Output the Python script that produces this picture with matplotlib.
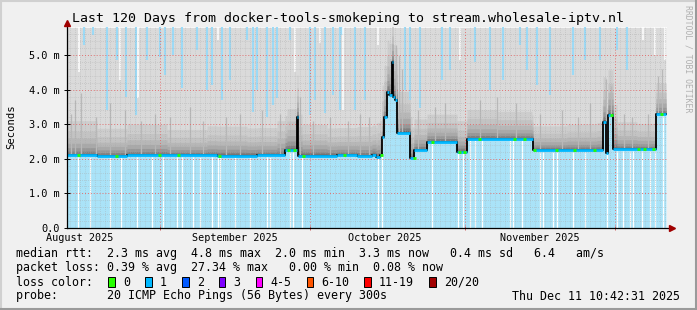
import datetime as dt
import numpy as np
import matplotlib
matplotlib.use('Agg')
import matplotlib.pyplot as plt
from matplotlib.patches import Rectangle
from matplotlib.lines import Line2D

plt.rcParams['font.family'] = ['DejaVu Sans Mono']

# ---------------- data ----------------
# x values are days since the start of the 120 day window
start = dt.datetime(2025, 8, 13, 10, 42, 31)
n_days = 120
data_end = 119.8

# median rtt (ms), step-wise
median_day = [0.0, 6.0, 12.0, 30.0, 38.0, 43.6, 45.9, 46.1, 54.0, 58.0, 61.0, 61.8,
              62.6, 63.0, 63.4, 64.0, 64.4, 64.9, 65.2, 65.6, 66.0, 68.6, 69.4,
              72.0, 78.0, 80.0, 93.2, 107.2, 107.7, 108.2, 109.2, 117.8]
median_ms = [2.10, 2.08, 2.10, 2.09, 2.10, 2.25, 3.22, 2.09, 2.10, 2.08, 2.12, 2.05,
             2.10, 2.63, 3.20, 3.93, 3.84, 4.80, 3.80, 3.70, 2.75, 2.02, 2.25,
             2.49, 2.20, 2.57, 2.25, 3.07, 2.17, 3.27, 2.27, 3.29]

# how far the dense smoke reaches above the median (ms)
smoke_day = [0, 6, 12, 20, 28, 36, 42, 44, 47, 52, 58, 62, 63, 66, 69, 72, 78, 80,
             86, 93, 100, 106, 107, 110, 114, 117.8]
smoke_spread = [1.0, 0.8, 0.9, 0.75, 0.85, 0.8, 1.0, 1.2, 0.9, 0.8, 0.85, 1.0, 1.5,
                1.2, 0.9, 0.8, 0.9, 0.85, 0.8, 0.7, 0.75, 0.8, 1.3, 0.8, 0.75, 0.9]
smoke_fracs = [1.0, 0.7, 0.5, 0.35, 0.22, 0.12, 0.05]
smoke_colors = ['#cdcdcd', '#c3c3c3', '#b7b7b7', '#a9a9a9', '#979797', '#808080', '#606060']

# darker single smoke streaks: day, top (ms)
gray_streak_day = [0.8, 1.6, 2.8, 5.8, 8.6, 11.6, 14.8, 17.6, 20.6, 24.6, 27.2, 31.8,
                   34.6, 39.0, 42.6, 46.6, 49.2, 52.6, 56.2, 58.6, 60.4, 65.8, 66.4,
                   67.0, 70.2, 73.6, 75.6, 82.6, 86.0, 89.8, 94.6, 99.0, 102.2, 104.6,
                   107.8, 108.8, 111.4, 113.0, 116.2, 118.2, 119.0]
gray_streak_top = [3.3, 3.7, 3.9, 3.2, 3.6, 3.4, 3.1, 3.3, 3.2, 3.5, 3.1, 3.2,
                   3.3, 3.4, 3.3, 3.8, 3.1, 3.2, 3.1, 3.3, 3.2, 5.3, 5.0,
                   4.6, 3.4, 3.5, 3.6, 3.7, 3.8, 3.6, 3.3, 3.4, 3.2, 3.6,
                   4.3, 4.1, 3.3, 3.2, 3.3, 4.4, 4.6]

# streaks at the top where the smoke stops short: day, lower end (ms)
blue_top_day = [3.4, 5.2, 8.0, 10.0, 11.8, 13.8, 16.0, 18.6, 19.6, 21.2, 23.0, 26.0,
                28.0, 29.0, 31.0, 32.6, 36.0, 37.2, 38.0, 40.0, 41.2, 42.0, 44.6,
                48.6, 49.6, 51.6, 53.2, 54.6, 55.0, 57.6, 59.6, 67.6, 68.6, 70.6,
                75.0, 76.6, 81.6, 84.6, 87.2, 90.6, 92.0, 94.0, 96.6, 101.2, 103.6,
                106.6, 110.0, 112.0]
blue_top_ms = [5.29, 5.58, 3.41, 4.86, 3.79, 3.27, 4.86, 4.94, 4.42, 5.00, 4.05, 5.14,
               3.99, 4.13, 3.70, 4.28, 5.43, 3.35, 3.99, 3.21, 3.55, 3.76, 5.43,
               3.27, 3.70, 3.32, 3.84, 3.41, 5.58, 3.41, 3.70, 3.99, 3.70, 3.47,
               4.28, 4.57, 4.80, 3.99, 4.28, 5.29, 4.57, 4.13, 3.84, 4.42, 4.86,
               4.86, 5.14, 4.57]
white_top_day = [2.4, 10.6, 14.2, 30.2, 45.6, 50.6, 55.2, 62.2, 78.6, 115.2, 117.6, 119.6]
white_top_ms = [4.51, 4.28, 3.76, 5.43, 4.51, 5.35, 3.41, 5.29, 4.86, 5.43, 5.00, 4.86]

# gaps (no data) in the area below the median
gap_day = [2.2, 4.6, 8.6, 10.8, 14.0, 17.0, 19.2, 22.0, 23.0, 25.2, 26.6, 29.0, 30.2,
           30.6, 33.6, 36.6, 40.0, 40.6, 44.6, 45.2, 47.0, 62.2, 63.0, 73.0, 78.2,
           79.2, 80.6, 81.6, 83.0, 88.6, 89.2, 91.0, 94.6, 95.2, 97.2, 98.0, 101.2,
           103.6, 108.0, 110.0, 111.2, 112.6, 113.2, 115.0, 116.6, 117.6, 119.2]

# days where the median had no loss (green)
green_day = [2.0, 9.6, 18.2, 22.0, 30.2, 44.0, 45.2, 47.0, 55.2, 62.6, 69.2, 72.8,
             78.2, 79.2, 82.2, 89.2, 91.2, 93.2, 97.6, 101.2, 105.2, 108.6, 114.0,
             115.2, 117.0, 118.6]

month_labels = ['August 2025', 'September 2025', 'October 2025', 'November 2025']
ytick_vals = [0, 1, 2, 3, 4, 5]
ytick_labels = ['0.0', '1.0 m', '2.0 m', '3.0 m', '4.0 m', '5.0 m']

loss_labels = ['0', '1', '2', '3', '4-5', '6-10', '11-19', '20/20']
loss_colors = ['#26ff00', '#00b8ff', '#0059ff', '#7e00ff', '#ff00ff', '#ff5500',
               '#ff0000', '#a10000']

stats_rtt = 'median rtt:  2.3 ms avg  4.8 ms max  2.0 ms min  3.3 ms now   0.4 ms sd   6.4   am/s'
stats_loss = 'packet loss: 0.39 % avg  27.34 % max   0.00 % min  0.08 % now'
probe_txt = 'probe:       20 ICMP Echo Pings (56 Bytes) every 300s'
stamp_txt = 'Thu Dec 11 10:42:31 2025'
title_txt = 'Last 120 Days from docker-tools-smokeping to stream.wholesale-iptv.nl'

# ---------------- helpers ----------------
W, H = 697, 310
ymax = 5.8


def step_at(x, bx, by):
    idx = np.searchsorted(bx, x, side='right') - 1
    return np.asarray(by)[np.clip(idx, 0, len(by) - 1)]


def day_of(d):
    return (d - start).total_seconds() / 86400.0


def fx(px):
    return px / W


def fy(py):
    return 1 - py / H


fig = plt.figure(figsize=(W / 100, H / 100), dpi=100)
fig.patch.set_facecolor('#f0f0f0')
ax = fig.add_axes([fx(67), fy(228), 600 / W, (228 - 27.3) / H])
ax.set_facecolor('white')
ax.set_xlim(0, n_days)
ax.set_ylim(0, ymax)

xs = np.arange(0, data_end + 0.001, 0.2)
med = step_at(xs, median_day, median_ms)
spread = step_at(xs, smoke_day, smoke_spread)

blue = '#aae3f8'
ax.fill_between(xs, 0, med, color=blue, step='post', lw=0, zorder=1)
ax.fill_between(xs, med, ymax, color='#dadada', step='post', lw=0, zorder=1)
for f, c in zip(smoke_fracs, smoke_colors):
    ax.fill_between(xs, med, med + spread * f, color=c, step='post', lw=0, zorder=1.2)

gmed = step_at(np.array(gray_streak_day), median_day, median_ms)
ax.vlines(gray_streak_day, gmed, gray_streak_top, color='#b8b8b8', lw=0.9, zorder=1.3)
ax.vlines(blue_top_day, blue_top_ms, ymax, color='#9cdaf6', lw=1.5, zorder=1.4)
ax.vlines(white_top_day, white_top_ms, ymax, color='white', lw=1.1, zorder=1.4)
gap_med = step_at(np.array(gap_day), median_day, median_ms)
ax.vlines(gap_day, 0, gap_med - 0.04, color='white', lw=0.9, zorder=1.4)

# grid
month_starts = [dt.datetime(2025, m, 1) for m in (9, 10, 11, 12)]
major_x = [day_of(d) for d in month_starts]
first_mid = day_of(dt.datetime(2025, 8, 14))
minor_x = list(np.arange(first_mid, n_days, 1.0))
ax.set_xticks(major_x)
ax.set_xticks(minor_x, minor=True)
ax.set_xticklabels([])
ax.set_yticks(ytick_vals)
ax.set_yticklabels(ytick_labels, fontsize=7.4)
ax.set_yticks(np.arange(0, ymax, 0.2), minor=True)
ax.set_axisbelow(False)
ax.grid(which='minor', color='#a8a8a8', linestyle=(0, (1, 2)), lw=0.5, alpha=0.7)
ax.grid(which='major', color='#e07070', linestyle=(0, (1, 2)), lw=0.7)
ax.tick_params(axis='y', which='major', length=4, direction='inout', width=0.7, pad=3)
ax.tick_params(axis='x', which='major', length=3, direction='inout', width=0.7,
               color='#d06060')
ax.tick_params(which='minor', length=0)
for s in ax.spines.values():
    s.set_visible(False)

# median line coloured by loss
ax.plot(median_day + [data_end], median_ms + [median_ms[-1]], drawstyle='steps-post',
        color='black', lw=1.3, zorder=4)
ax.hlines(median_ms, median_day, median_day[1:] + [data_end], color=loss_colors[1],
          lw=2.0, zorder=5)
gm = step_at(np.array(green_day), median_day, median_ms)
ax.hlines(gm, green_day, np.array(green_day) + 0.5, color=loss_colors[0], lw=2.0, zorder=6)

# axis lines with arrows
ax.plot([0, 1.006], [0, 0], transform=ax.transAxes, color='black', lw=0.9,
        clip_on=False, zorder=7)
ax.plot([0, 0], [0, 1.01], transform=ax.transAxes, color='black', lw=0.9,
        clip_on=False, zorder=7)
ax.plot([1.009], [0], marker='>', ms=4, color='#a00000', transform=ax.transAxes,
        clip_on=False, zorder=8)
ax.plot([0], [1.02], marker='^', ms=4, color='#a00000', transform=ax.transAxes,
        clip_on=False, zorder=8)

# month labels centred mid-month
for i, lab in enumerate(month_labels):
    d = day_of(dt.datetime(2025, 8 + i, 16))
    ax.text(d, -0.05, lab, transform=ax.get_xaxis_transform(), ha='center', va='center',
            fontsize=7.3)

fig.text(0.5, fy(18.5), title_txt, ha='center', va='center', fontsize=9.5)
fig.text(fx(11), fy(127), 'Seconds', rotation=90, ha='center', va='center', fontsize=7.6)
fig.text(fx(688), fy(5), 'RRDTOOL / TOBI OETIKER', rotation=270, ha='center', va='top',
         fontsize=5.9, color='#b0b0b0')

# legend block
cw = 6.96
x0 = 16
fs = 8.4
fig.text(fx(x0), fy(254), stats_rtt, ha='left', va='center', fontsize=fs)
fig.text(fx(x0), fy(268), stats_loss, ha='left', va='center', fontsize=fs)
fig.text(fx(x0), fy(282), 'loss color:', ha='left', va='center', fontsize=fs)
fig.text(fx(x0), fy(296), probe_txt, ha='left', va='center', fontsize=fs)
fig.text(fx(680), fy(296), stamp_txt, ha='right', va='center', fontsize=fs)
pos = 13.26
for lab, col in zip(loss_labels, loss_colors):
    bx = x0 + pos * cw
    fig.add_artist(Rectangle((fx(bx), fy(286.5)), 6.5 / W, 10 / H, facecolor=col,
                             edgecolor='black', lw=0.7, transform=fig.transFigure))
    fig.text(fx(x0 + (pos + 2.1) * cw), fy(282), lab, ha='left', va='center', fontsize=fs)
    pos += 4.3 + len(lab)

# 3d-ish border
for xa, ya, c in [([0, W], [0.5, 0.5], '#d0d0d0'), ([0.5, 0.5], [0, H], '#d0d0d0'),
                  ([0, W], [H - 1, H - 1], '#9a9a9a'), ([W - 1, W - 1], [0, H], '#9a9a9a')]:
    fig.add_artist(Line2D([fx(v) for v in xa], [fy(v) for v in ya], color=c, lw=1.5,
                          transform=fig.transFigure))

fig.savefig('out.png', dpi=100, facecolor=fig.get_facecolor())
